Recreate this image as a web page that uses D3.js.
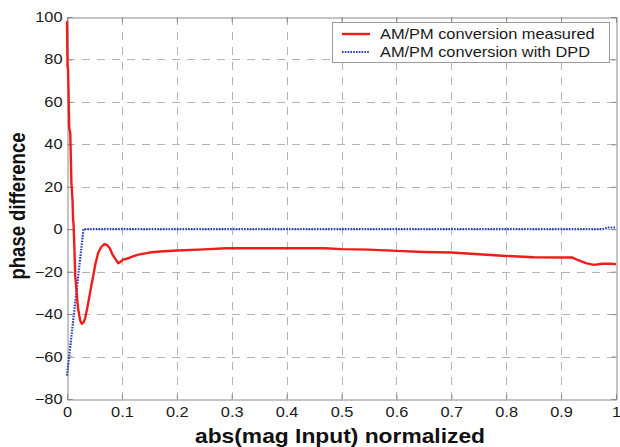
<!DOCTYPE html>
<html>
<head>
<meta charset="utf-8">
<script src="https://cdn.jsdelivr.net/npm/d3@7"></script>
<style>
  html, body { margin: 0; padding: 0; background: #fff; }
  svg { display: block; font-family: "Liberation Sans", Arial, sans-serif; }
</style>
</head>
<body>
<svg id="chart" width="620" height="447"></svg>
<script>
// Normalized input magnitude vs. phase difference (degrees)
const measuredX = [0, 0.001, 0.002, 0.004, 0.006, 0.008, 0.010, 0.011, 0.012, 0.013, 0.015, 0.017,
  0.020, 0.024, 0.027, 0.030, 0.033, 0.037, 0.042, 0.047, 0.052, 0.057, 0.062, 0.068, 0.073,
  0.078, 0.083, 0.088, 0.093, 0.097, 0.102, 0.11, 0.12, 0.13, 0.15, 0.17, 0.2, 0.25, 0.29,
  0.35, 0.4, 0.47, 0.5, 0.55, 0.6, 0.65, 0.7, 0.75, 0.8, 0.85, 0.9, 0.92, 0.93, 0.945, 0.96,
  0.975, 0.99, 1.0];
const measuredY = [98, 77, 75, 48, 45, 22, 14, 5, 2, -5, -22, -28,
  -37, -43, -44.5, -44, -42, -37, -30, -23, -16, -11, -8.5, -7, -7.5,
  -9, -12, -14, -16, -15.5, -14.3, -13.8, -12.8, -12, -11, -10.5, -10, -9.5, -9,
  -9, -9, -9, -9.4, -9.6, -10.2, -10.7, -11, -11.8, -12.6, -13.2, -13.3, -13.3, -14.5, -16, -16.8,
  -16.3, -16.2, -16.5];

const dpdX = [0, 0.03, 0.1, 0.3, 0.5, 0.7, 0.9, 0.975, 0.985, 1.0];
const dpdY = [-69, 0, 0, 0, 0, 0, 0, 0, 0.8, 0.8];

const xTicks = [0, 0.1, 0.2, 0.3, 0.4, 0.5, 0.6, 0.7, 0.8, 0.9, 1];
const yTicks = [-80, -60, -40, -20, 0, 20, 40, 60, 80, 100];

const seriesNames = ["AM/PM conversion measured", "AM/PM conversion with DPD"];
const xTitle = "abs(mag Input) normalized";
const yTitle = "phase difference";

const svg = d3.select("#chart");
const plot = { left: 67, right: 616, top: 17, bottom: 399 };
const widen = 1.17; // lettering is drawn slightly wide

const x = d3.scaleLinear().domain([0, 1]).range([plot.left, plot.right]);
const y = d3.scaleLinear().domain([-80, 100]).range([plot.bottom, plot.top]);

// dashed grid
const grid = svg.append("g").attr("stroke", "#b4b4b4").attr("stroke-width", 1)
  .attr("stroke-dasharray", "8,7");
grid.selectAll("line.vx").data(xTicks.filter(t => t > 0 && t < 1)).join("line")
  .attr("x1", d => Math.round(x(d)) + 0.5).attr("x2", d => Math.round(x(d)) + 0.5)
  .attr("y1", plot.top).attr("y2", plot.bottom);
grid.selectAll("line.hy").data(yTicks.filter(t => t > -80 && t < 100)).join("line")
  .attr("y1", d => Math.round(y(d)) + 0.5).attr("y2", d => Math.round(y(d)) + 0.5)
  .attr("x1", plot.left).attr("x2", plot.right);

// axes with inward ticks
const axisColor = "#8a8a8a";
const xAxis = svg.append("g").attr("transform", `translate(0,${plot.bottom + 0.5})`)
  .call(d3.axisBottom(x).tickValues(xTicks).tickSize(-5).tickPadding(8)
    .tickFormat(d => d === 0 ? "0" : d === 1 ? "1" : d3.format(".1f")(d)));
const xAxisTop = svg.append("g").attr("transform", `translate(0,${plot.top + 0.5})`)
  .call(d3.axisTop(x).tickValues(xTicks).tickSize(-5).tickFormat(""));
const yAxis = svg.append("g").attr("transform", `translate(${plot.left + 0.5},0)`)
  .call(d3.axisLeft(y).tickValues(yTicks).tickSize(-5).tickPadding(5));
const yAxisRight = svg.append("g").attr("transform", `translate(${plot.right + 0.5},0)`)
  .call(d3.axisRight(y).tickValues(yTicks).tickSize(-5).tickFormat(""));

[xAxis, xAxisTop, yAxis, yAxisRight].forEach(g => {
  g.selectAll(".domain").attr("stroke", axisColor);
  g.selectAll(".tick line").attr("stroke", axisColor);
  g.selectAll("text").attr("font-family", "'Liberation Sans', Arial, sans-serif")
    .attr("font-size", 14).attr("fill", "#1a1a1a")
    .each(function () {
      const t = d3.select(this);
      const tx = +(t.attr("x") || 0);
      t.attr("x", tx / widen).attr("transform", `scale(${widen},1)`);
    });
});

// series
const line = d3.line().x(d => x(d[0])).y(d => y(d[1]));
svg.append("path")
  .datum(dpdX.map((v, i) => [v, dpdY[i]]))
  .attr("fill", "none").attr("stroke", "#2a3fb8").attr("stroke-width", 2.2)
  .attr("stroke-dasharray", "1.6,1.2").attr("d", line);
svg.append("path")
  .datum(measuredX.map((v, i) => [v, measuredY[i]]))
  .attr("fill", "none").attr("stroke", "#f01c1c").attr("stroke-width", 2.4)
  .attr("stroke-linejoin", "round").attr("d", line);

// legend
const lg = svg.append("g");
lg.append("rect").attr("x", 332.5).attr("y", 22.5).attr("width", 277).attr("height", 40)
  .attr("fill", "#fff").attr("stroke", "#9a9a9a");
const legendRows = [
  { name: seriesNames[0], color: "#f01c1c", dash: null, w: 2.4 },
  { name: seriesNames[1], color: "#2a3fb8", dash: "1.6,1.2", w: 2.2 }
];
legendRows.forEach((r, i) => {
  const yy = 34 + i * 18;
  lg.append("line").attr("x1", 342).attr("x2", 370).attr("y1", yy).attr("y2", yy)
    .attr("stroke", r.color).attr("stroke-width", r.w).attr("stroke-dasharray", r.dash);
  lg.append("text").attr("x", 380 / widen).attr("y", yy).attr("dy", "0.35em")
    .attr("transform", `scale(${widen},1)`)
    .attr("font-size", 14).attr("fill", "#1a1a1a").text(r.name);
});

// axis titles
svg.append("text").attr("x", 340).attr("y", 443).attr("text-anchor", "middle")
  .attr("font-size", 20.5).attr("font-weight", "bold").attr("fill", "#111")
  .attr("textLength", 290).attr("lengthAdjust", "spacingAndGlyphs").text(xTitle);
svg.append("text").attr("transform", `translate(25,206) scale(${widen},1) rotate(-90)`)
  .attr("text-anchor", "middle")
  .attr("font-size", 18.5).attr("font-weight", "bold").attr("fill", "#111").text(yTitle);
</script>
</body>
</html>
